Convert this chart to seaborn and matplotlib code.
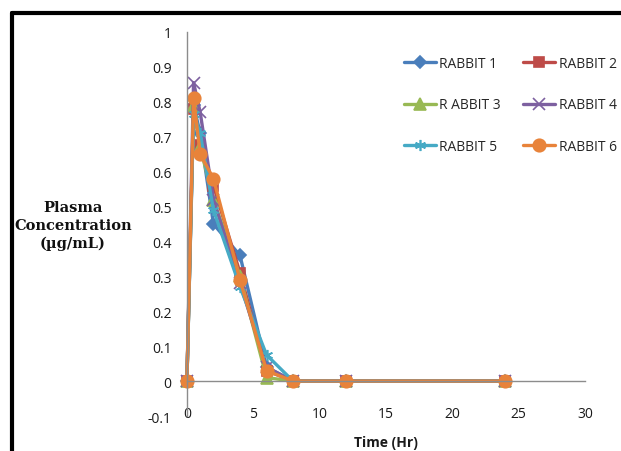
import matplotlib
matplotlib.use("Agg")
import matplotlib.pyplot as plt
from matplotlib.lines import Line2D
import seaborn as sns
import pandas as pd

# ---- data ----
time_hr = [0, 0.5, 1, 2, 4, 6, 8, 12, 24]
rabbit1 = [0, 0.79, 0.71, 0.45, 0.36, 0.04, 0, 0, 0]
rabbit2 = [0, 0.78, 0.675, 0.56, 0.31, 0.03, 0, 0, 0]
rabbit3 = [0, 0.79, 0.67, 0.52, 0.30, 0.01, 0, 0, 0]
rabbit4 = [0, 0.855, 0.77, 0.52, 0.28, 0.04, 0, 0, 0]
rabbit5 = [0, 0.765, 0.71, 0.49, 0.27, 0.075, 0, 0, 0]
rabbit6 = [0, 0.81, 0.65, 0.58, 0.29, 0.03, 0, 0, 0]
series_names = ["RABBIT 1", "RABBIT 2", "R ABBIT 3", "RABBIT 4", "RABBIT 5", "RABBIT 6"]
series_values = [rabbit1, rabbit2, rabbit3, rabbit4, rabbit5, rabbit6]
x_ticks = [0, 5, 10, 15, 20, 25, 30]
y_ticks = [-0.1, 0, 0.1, 0.2, 0.3, 0.4, 0.5, 0.6, 0.7, 0.8, 0.9, 1]
y_tick_labels = ["-0.1", "0", "0.1", "0.2", "0.3", "0.4", "0.5", "0.6", "0.7", "0.8", "0.9", "1"]

# ---- style ----
colors = ["#4A7EBB", "#BE4B48", "#98B954", "#7D60A0", "#46AAC5", "#E8833A"]
markers = ["D", "s", "^", "x", (6, 2, 0), "o"]
msizes = [6, 7, 8, 8, 8, 9]

sns.set_style("white")
plt.rcParams["font.family"] = ["Open Sans", "DejaVu Sans"]

fig = plt.figure(figsize=(6.21, 4.52), dpi=100)
ax = fig.add_axes([0.301, 0.0774, 0.641, 0.8496])

for name, vals, c, m, ms in zip(series_names, series_values, colors, markers, msizes):
    df = pd.DataFrame({"Time": time_hr, "Conc": vals})
    sns.lineplot(data=df, x="Time", y="Conc", ax=ax, color=c, marker=m,
                 markersize=ms, markeredgecolor=c, markeredgewidth=1.2,
                 linewidth=2.4, label=name, errorbar=None, clip_on=False)

ax.set_xlim(0, 30)
ax.set_ylim(-0.1, 1)
ax.set_xticks(x_ticks)
ax.set_xticklabels([str(v) for v in x_ticks])
ax.set_yticks(y_ticks)
ax.set_yticklabels(y_tick_labels)

for s in ["top", "right"]:
    ax.spines[s].set_visible(False)
ax.spines["bottom"].set_position(("data", 0))
for s in ["left", "bottom"]:
    ax.spines[s].set_color("#8C8C8C")
    ax.spines[s].set_linewidth(1.0)

ax.tick_params(axis="both", which="major", direction="out", length=5,
               width=1.0, color="#8C8C8C", labelsize=10, labelcolor="#1a1a1a")
ax.tick_params(axis="x", pad=13)
ax.tick_params(axis="y", pad=6)

ax.set_xlabel("")
ax.set_ylabel("")
fig.text(0.622, 1 - 443 / 452, "Time (Hr)", ha="center", va="center",
         fontsize=10, fontweight="bold", color="#1a1a1a")
fig.text(73 / 621, 1 - 226 / 452, "Plasma\nConcentration\n(\u00b5g/mL)",
         ha="center", va="center", multialignment="center",
         fontsize=10.5, fontweight="bold", family=["DejaVu Serif"],
         linespacing=1.35, color="#111111")

handles, labels = ax.get_legend_handles_labels()
order = [0, 2, 4, 1, 3, 5]  # row-major layout in two columns
ax.legend([handles[i] for i in order], [labels[i] for i in order], ncol=2,
          frameon=False, fontsize=10,
          loc="upper left", bbox_to_anchor=(404 / 621, 1 - 57 / 452),
          bbox_transform=fig.transFigure, borderpad=0, borderaxespad=0,
          handlelength=2.3, handletextpad=0.25, columnspacing=1.6,
          labelspacing=1.9)

# outer frame (top and left black lines)
fig.add_artist(Line2D([12 / 621, 1], [1 - 14 / 452, 1 - 14 / 452],
                      transform=fig.transFigure, color="black", linewidth=3))
fig.add_artist(Line2D([12 / 621, 12 / 621], [0, 1 - 14 / 452],
                      transform=fig.transFigure, color="black", linewidth=3))

fig.savefig("out.png", dpi=100)
